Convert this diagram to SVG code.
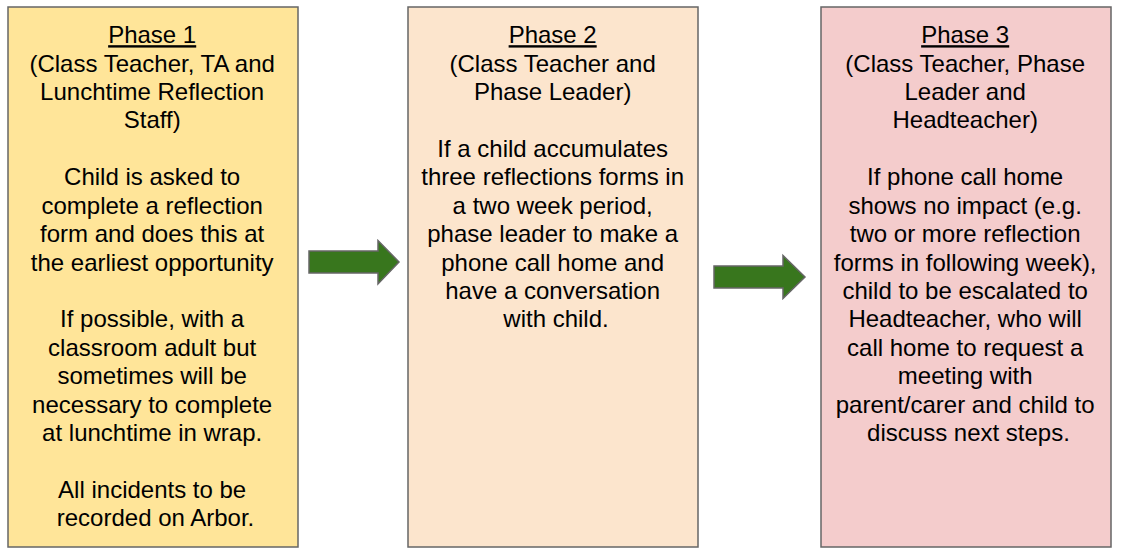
<svg xmlns="http://www.w3.org/2000/svg" width="1124" height="560" viewBox="0 0 1124 560">
<style>
.box{stroke:#666666;stroke-width:1.5}
.t{font-family:"Liberation Sans",Arial,sans-serif;font-size:24px;fill:#000;text-anchor:middle}
.h{text-decoration:underline}
.arr{fill:#38761d;stroke:#666666;stroke-width:1.5}
</style>
<rect width="1124" height="560" fill="#ffffff"/>
<g id="phase1">
<rect class="box" x="8" y="7" width="290" height="540" fill="#ffe599"/>
<text class="t" x="155.5" y="43.2">
<tspan class="h" x="155.5">Phase 1</tspan>
<tspan x="155.5" dy="28.42">(Class Teacher, TA and</tspan>
<tspan x="155.5" dy="28.42">Lunchtime Reflection</tspan>
<tspan x="155.5" dy="28.42">Staff)</tspan>
<tspan x="155.5" dy="56.84">Child is asked to</tspan>
<tspan x="155.5" dy="28.42">complete a reflection</tspan>
<tspan x="155.5" dy="28.42">form and does this at</tspan>
<tspan x="155.5" dy="28.42">the earliest opportunity</tspan>
<tspan x="155.5" dy="56.84">If possible, with a</tspan>
<tspan x="155.5" dy="28.42">classroom adult but</tspan>
<tspan x="155.5" dy="28.42">sometimes will be</tspan>
<tspan x="155.5" dy="28.42">necessary to complete</tspan>
<tspan x="155.5" dy="28.42">at lunchtime in wrap.</tspan>
<tspan x="155.5" dy="56.84">All incidents to be</tspan>
<tspan x="155.5" dy="28.42">recorded on Arbor.</tspan>
</text>
</g>
<g id="phase2">
<rect class="box" x="408" y="7" width="290" height="540" fill="#fce5cd"/>
<text class="t" x="556" y="43.2">
<tspan class="h" x="556">Phase 2</tspan>
<tspan x="556" dy="28.42">(Class Teacher and</tspan>
<tspan x="556" dy="28.42">Phase Leader)</tspan>
<tspan x="556" dy="56.84">If a child accumulates</tspan>
<tspan x="556" dy="28.42">three reflections forms in</tspan>
<tspan x="556" dy="28.42">a two week period,</tspan>
<tspan x="556" dy="28.42">phase leader to make a</tspan>
<tspan x="556" dy="28.42">phone call home and</tspan>
<tspan x="556" dy="28.42">have a conversation</tspan>
<tspan x="556" dy="28.42">with child.</tspan>
</text>
</g>
<g id="phase3">
<rect class="box" x="821" y="7" width="290" height="540" fill="#f4cccc"/>
<text class="t" x="968.5" y="43.2">
<tspan class="h" x="968.5">Phase 3</tspan>
<tspan x="968.5" dy="28.42">(Class Teacher, Phase</tspan>
<tspan x="968.5" dy="28.42">Leader and</tspan>
<tspan x="968.5" dy="28.42">Headteacher)</tspan>
<tspan x="968.5" dy="56.84">If phone call home</tspan>
<tspan x="968.5" dy="28.42">shows no impact (e.g.</tspan>
<tspan x="968.5" dy="28.42">two or more reflection</tspan>
<tspan x="968.5" dy="28.42">forms in following week),</tspan>
<tspan x="968.5" dy="28.42">child to be escalated to</tspan>
<tspan x="968.5" dy="28.42">Headteacher, who will</tspan>
<tspan x="968.5" dy="28.42">call home to request a</tspan>
<tspan x="968.5" dy="28.42">meeting with</tspan>
<tspan x="968.5" dy="28.42">parent/carer and child to</tspan>
<tspan x="968.5" dy="28.42">discuss next steps.</tspan>
</text>
</g>
<g id="connectors">
<polygon class="arr" points="309,251 378,251 378,240.5 399,262 378,284 378,273 309,273"/>
<polygon class="arr" points="714,266 783,266 783,255.5 805,277 783,298.5 783,288 714,288"/>
</g>
</svg>
